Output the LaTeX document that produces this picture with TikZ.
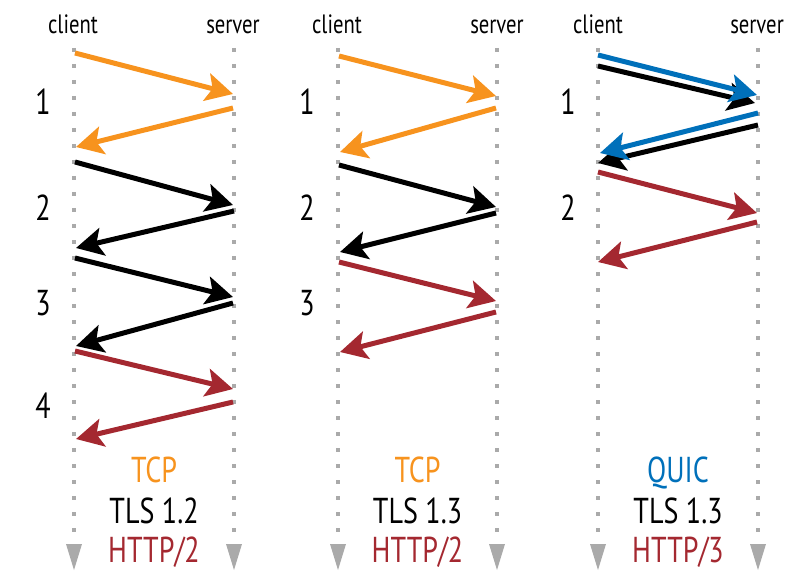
\documentclass[tikz,border=0pt]{standalone}
\usepackage{fontspec}
\setmainfont[FakeStretch=0.78]{PT Sans}
\usetikzlibrary{arrows.meta}
\definecolor{corange}{RGB}{247,147,30}
\definecolor{cred}{RGB}{164,40,48}
\definecolor{cblue}{RGB}{0,112,186}
\definecolor{cgray}{RGB}{170,170,170}
\tikzset{
  msg/.style={line width=5pt, -{Stealth[length=27pt,width=28pt,inset=6pt]}},
  timeline/.style={cgray, line width=4pt, dash pattern=on 4pt off 12pt},
  head/.style={anchor=base, font=\fontsize{26.5}{28}\selectfont, inner sep=0pt},
  num/.style={anchor=base, font=\fontsize{36}{40}\selectfont, inner sep=0pt},
  lbl/.style={anchor=base, font=\fontsize{36}{40}\selectfont, inner sep=0pt},
}
\begin{document}
\begin{tikzpicture}[x=1pt,y=-1pt]
\useasboundingbox (0,0) rectangle (800,580);
% timelines
\foreach \xx/\nm in {74/c1,234/s1,338/c2,497/s2,598/c3,758/s3}{
  \coordinate (\nm top) at (\xx,48);
  \coordinate (\nm bot) at (\xx,532);
  \draw[timeline] (\nm top) -- (\nm bot);
  \fill[cgray] (\xx-8,544) -- (\xx+8,544) -- (\xx,570) -- cycle;
}
% headers
\foreach \xx/\nm in {73/1,337/2,598/3}{
  \node[head] (client\nm) at (\xx,34) {client};
}
\foreach \xx/\nm in {233/1,497/2,757/3}{
  \node[head] (server\nm) at (\xx,34) {server};
}
% numbers
\node[num] (n11) at (43,115) {1};
\node[num] (n12) at (43,220) {2};
\node[num] (n13) at (43,315) {3};
\node[num] (n14) at (43,418) {4};
\node[num] (n21) at (307,115) {1};
\node[num] (n22) at (307,220) {2};
\node[num] (n23) at (307,315) {3};
\node[num] (n31) at (568,115) {1};
\node[num] (n32) at (568,220) {2};
% panel 1 coordinates
\coordinate (p1a) at (75,53);   \coordinate (p1b) at (233,94);
\coordinate (p1c) at (233,108); \coordinate (p1d) at (76,147);
\coordinate (p1e) at (75,162);  \coordinate (p1f) at (233,205);
\coordinate (p1g) at (234,211); \coordinate (p1h) at (76,248);
\coordinate (p1i) at (75,258);  \coordinate (p1j) at (233,297);
\coordinate (p1k) at (233,303); \coordinate (p1l) at (76,346);
\coordinate (p1m) at (75,351);  \coordinate (p1n) at (233,389);
\coordinate (p1o) at (233,402); \coordinate (p1p) at (76,439);
\draw[msg, corange] (p1a) -- (p1b);
\draw[msg, corange] (p1c) -- (p1d);
\draw[msg, black] (p1e) -- (p1f);
\draw[msg, black] (p1g) -- (p1h);
\draw[msg, black] (p1i) -- (p1j);
\draw[msg, black] (p1k) -- (p1l);
\draw[msg, cred] (p1m) -- (p1n);
\draw[msg, cred] (p1o) -- (p1p);
% panel 2
\coordinate (p2a) at (339,56);  \coordinate (p2b) at (496,96);
\coordinate (p2c) at (496,108); \coordinate (p2d) at (340,152);
\coordinate (p2e) at (339,165); \coordinate (p2f) at (496,207);
\coordinate (p2g) at (496,213); \coordinate (p2h) at (340,252);
\coordinate (p2i) at (339,262); \coordinate (p2j) at (496,301);
\coordinate (p2k) at (496,312); \coordinate (p2l) at (340,352);
\draw[msg, corange] (p2a) -- (p2b);
\draw[msg, corange] (p2c) -- (p2d);
\draw[msg, black] (p2e) -- (p2f);
\draw[msg, black] (p2g) -- (p2h);
\draw[msg, cred] (p2i) -- (p2j);
\draw[msg, cred] (p2k) -- (p2l);
% panel 3
\coordinate (p3a) at (598,55);  \coordinate (p3b) at (757,95);
\coordinate (p3a2) at (598,66); \coordinate (p3b2) at (755,103);
\coordinate (p3c) at (758,113); \coordinate (p3d) at (600,153);
\coordinate (p3c2) at (758,125); \coordinate (p3d2) at (598,163);
\coordinate (p3e) at (598,172); \coordinate (p3f) at (757,213);
\coordinate (p3g) at (757,222); \coordinate (p3h) at (598,262);
\draw[msg, black] (p3a2) -- (p3b2);
\draw[msg, cblue] (p3a) -- (p3b);
\draw[msg, black] (p3c2) -- (p3d2);
\draw[msg, cblue] (p3c) -- (p3d);
\draw[msg, cred] (p3e) -- (p3f);
\draw[msg, cred] (p3g) -- (p3h);
% labels
\node[lbl, text=corange] (t1a) at (154,482) {TCP};
\node[lbl] (t1b) at (154,523) {TLS 1.2};
\node[lbl, text=cred] (t1c) at (154,562) {HTTP/2};
\node[lbl, text=corange] (t2a) at (417.5,482) {TCP};
\node[lbl] (t2b) at (417.5,523) {TLS 1.3};
\node[lbl, text=cred] (t2c) at (417.5,562) {HTTP/2};
\node[lbl, text=cblue] (t3a) at (678,482) {QUIC};
\node[lbl] (t3b) at (678,523) {TLS 1.3};
\node[lbl, text=cred] (t3c) at (678,562) {HTTP/3};
\end{tikzpicture}
\end{document}
